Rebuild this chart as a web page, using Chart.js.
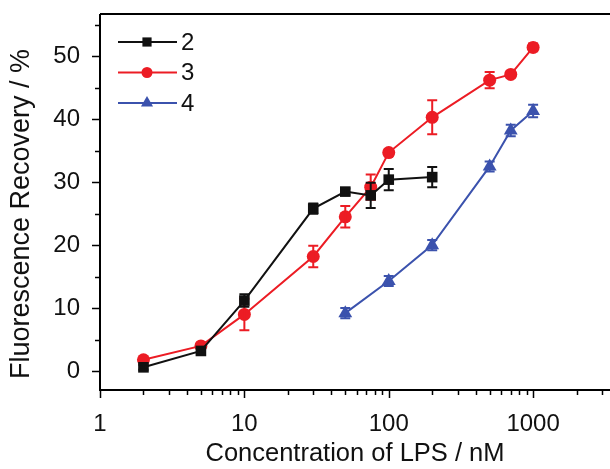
<!DOCTYPE html>
<html>
<head>
<meta charset="utf-8">
<script src="https://cdn.jsdelivr.net/npm/chart.js@4"></script>
<style>
  html, body { margin: 0; padding: 0; background: #fff; }
  #wrap { position: relative; width: 610px; height: 469px; }
</style>
</head>
<body>
<div id="wrap"><canvas id="chart" width="610" height="469"></canvas></div>
<script>
// concentrations (nM)
const conc2 = [2, 5, 10, 30, 50, 75, 100, 200]
const rec2 = [0.6, 3.2, 11.2, 25.8, 28.5, 27.9, 30.4, 30.8]
const err2 = [0.4, 0.4, 1.0, 0.8, 0.5, 2.0, 1.7, 1.6]

const conc3 = [2, 5, 10, 30, 50, 75, 100, 200, 500, 700, 1000]
const rec3 = [1.8, 4.0, 9.0, 18.2, 24.5, 29.2, 34.7, 40.3, 46.2, 47.1, 51.4]
const err3 = [0.3, 0.3, 2.5, 1.7, 1.7, 2.0, 0.5, 2.7, 1.3, 0.5, 0.6]

const conc4 = [50, 100, 200, 500, 700, 1000]
const rec4 = [9.2, 14.3, 20.0, 32.5, 38.2, 41.3]
const err4 = [0.8, 0.8, 0.8, 0.8, 0.9, 1.0]

const xTicks = [1, 10, 100, 1000]
const yTicks = [0, 10, 20, 30, 40, 50]
const legendLabels = ["2", "3", "4"]
const xTitle = "Concentration of LPS / nM"
const yTitle = "Fluorescence Recovery / %"

const BLACK = "#111111", RED = "#ec1c24", BLUE = "#3b52ad"
const FONT = "'Liberation Sans', Arial, sans-serif"

function pts(xs, ys, es){
    return xs.map((x, i) => ({ x: x, y: ys[i], e: es[i] }))
}

// error bars via the scales
const errorBars = {
    id: "errorBars",
    afterDatasetDraw(chart, args){
        const ds = chart.data.datasets[args.index]
        const yScale = chart.scales.y
        const ctx = chart.ctx
        ctx.save()
        ctx.strokeStyle = ds.borderColor
        ctx.lineWidth = 2
        args.meta.data.forEach((el, i) => {
            const d = ds.data[i]
            const x = el.x
            const yt = yScale.getPixelForValue(d.y + d.e)
            const yb = yScale.getPixelForValue(d.y - d.e)
            ctx.beginPath()
            ctx.moveTo(x, yt); ctx.lineTo(x, yb)
            ctx.moveTo(x - 5, yt); ctx.lineTo(x + 5, yt)
            ctx.moveTo(x - 5, yb); ctx.lineTo(x + 5, yb)
            ctx.stroke()
        })
        ctx.restore()
    }
}

// frame, outside ticks (major/minor) and axis titles
const frame = {
    id: "frame",
    afterDraw(chart){
        const ctx = chart.ctx
        const a = chart.chartArea
        const xs = chart.scales.x, ys = chart.scales.y
        ctx.save()
        ctx.strokeStyle = "#000"
        ctx.lineWidth = 2
        ctx.beginPath()
        ctx.moveTo(a.left, a.top); ctx.lineTo(chart.width, a.top)
        ctx.moveTo(a.left, a.top); ctx.lineTo(a.left, a.bottom)
        ctx.lineTo(chart.width, a.bottom)
        ctx.stroke()
        ctx.lineWidth = 1.5
        ctx.beginPath()
        for(let dec = 1; dec <= 1000; dec *= 10){
            for(let m = 1; m <= 9; m++){
                const v = dec * m
                if(v > xs.max) break
                const px = Math.round(xs.getPixelForValue(v)) + 0.5
                const len = m === 1 ? 8 : 5
                ctx.moveTo(px, a.bottom); ctx.lineTo(px, a.bottom + len)
            }
        }
        for(let v = 0; v <= 55; v += 5){
            const py = Math.round(ys.getPixelForValue(v)) + 0.5
            const len = v % 10 === 0 ? 8 : 5
            ctx.moveTo(a.left, py); ctx.lineTo(a.left - len, py)
        }
        ctx.stroke()

        ctx.fillStyle = "#111"
        ctx.textAlign = "center"
        ctx.textBaseline = "middle"
        ctx.font = "25.5px " + FONT
        ctx.fillText(xTitle, 355, 454)
        ctx.translate(22, 214)
        ctx.rotate(-Math.PI / 2)
        ctx.font = "27px " + FONT
        ctx.fillText(yTitle, 0, 0)
        ctx.restore()
    }
}

const legendBox = {
    id: "legendBox",
    afterDraw(chart){
        const ctx = chart.ctx
        ctx.save()
        chart.data.datasets.forEach((ds, i) => {
            const y = 42 + i * 30.5
            ctx.strokeStyle = ds.borderColor
            ctx.fillStyle = ds.borderColor
            ctx.lineWidth = 2
            ctx.beginPath()
            ctx.moveTo(118, y); ctx.lineTo(177, y)
            ctx.stroke()
            Chart.helpers.drawPoint(ctx, { pointStyle: ds.pointStyle, radius: ds.pointRadius - 1, borderWidth: 0 }, 147, y)
            ctx.fillStyle = "#111"
            ctx.font = "24px " + FONT
            ctx.textBaseline = "middle"
            ctx.fillText(legendLabels[i], 181, y + 1)
        })
        ctx.restore()
    }
}

const ctx = document.getElementById("chart").getContext("2d")
new Chart(ctx, {
    type: "line",
    data: {
        datasets: [
            { label: legendLabels[0], data: pts(conc2, rec2, err2), borderColor: BLACK, backgroundColor: BLACK,
              borderWidth: 2, pointStyle: "rect", pointRadius: 7.5, pointBorderWidth: 0 },
            { label: legendLabels[1], data: pts(conc3, rec3, err3), borderColor: RED, backgroundColor: RED,
              borderWidth: 2, pointStyle: "circle", pointRadius: 6.5, pointBorderWidth: 0 },
            { label: legendLabels[2], data: pts(conc4, rec4, err4), borderColor: BLUE, backgroundColor: BLUE,
              borderWidth: 2, pointStyle: "triangle", pointRadius: 8, pointBorderWidth: 0 }
        ]
    },
    options: {
        responsive: false,
        animation: false,
        layout: { padding: { top: 14, right: 0, left: 0, bottom: 0 } },
        plugins: { legend: { display: false }, tooltip: { enabled: false } },
        scales: {
            x: {
                type: "logarithmic",
                min: 1, max: 3000,
                grid: { display: false }, border: { display: false },
                afterBuildTicks: s => { s.ticks = xTicks.map(v => ({ value: v })) },
                afterFit: s => { s.height = 79; s.paddingRight = 0; s.paddingLeft = 0 },
                ticks: { color: "#111", font: { family: FONT, size: 24 }, padding: 12, autoSkip: false, maxRotation: 0,
                         callback: v => String(v) },
                title: { display: false }
            },
            y: {
                type: "linear",
                min: -3, max: 56.7,
                grid: { display: false }, border: { display: false },
                afterBuildTicks: s => { s.ticks = yTicks.map(v => ({ value: v })) },
                afterFit: s => { s.width = 100; s.paddingTop = 0; s.paddingBottom = 0 },
                ticks: { color: "#111", font: { family: FONT, size: 24 }, padding: 12 },
                title: { display: false }
            }
        }
    },
    plugins: [errorBars, frame, legendBox]
})
</script>
</body>
</html>
